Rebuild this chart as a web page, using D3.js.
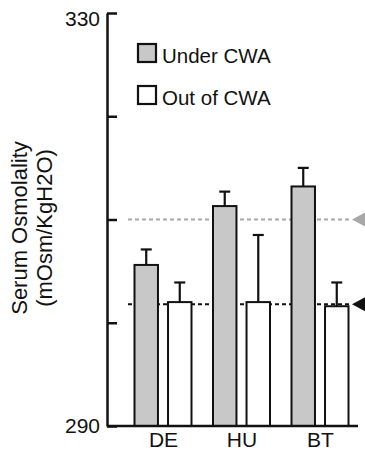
<!DOCTYPE html>
<html>
<head>
<meta charset="utf-8">
<script src="https://cdn.jsdelivr.net/npm/d3@7"></script>
<style>
body { margin:0; background:#fff; }
text { font-family: "Liberation Sans", Arial, sans-serif; fill:#111; }
</style>
</head>
<body>
<div id="chart"></div>
<script>
var categories = ["DE", "HU", "BT"];
var series = ["Under CWA", "Out of CWA"];
var underVals = [305.6, 311.3, 313.2];
var underErr = [1.5, 1.4, 1.8];
var outVals = [302.0, 302.0, 301.6];
var outErr = [1.9, 6.5, 2.3];
var refLines = [310.0, 301.8];   // under, out
var yTicks = [290, 300, 310, 320, 330];

var colors = { "Under CWA": "#c8c8c8", "Out of CWA": "#ffffff" };
var refColors = ["#a8a8a8", "#111"];

var svg = d3.select("#chart").append("svg")
  .attr("width", 365).attr("height", 453);

var y = d3.scaleLinear().domain([290, 330]).range([426, 13]);
var x = d3.scalePoint().domain(categories).range([163, 320]);
var xs = d3.scaleBand().domain(series).range([-28.5, 28.5]).paddingInner(0.3);

// reference dashed lines + arrows
refLines.forEach(function(v, i) {
  svg.append("line")
    .attr("x1", 128).attr("x2", 352)
    .attr("y1", y(v)).attr("y2", y(v))
    .attr("stroke", refColors[i])
    .attr("stroke-width", 2)
    .attr("stroke-dasharray", "4,3");
  svg.append("path")
    .attr("d", "M352," + y(v) + "L365," + (y(v) - 7) + "L365," + (y(v) + 7) + "Z")
    .attr("fill", refColors[i]);
});

// bars
var rows = [];
categories.forEach(function(c, i) {
  rows.push({ cat: c, s: series[0], v: underVals[i], e: underErr[i] });
  rows.push({ cat: c, s: series[1], v: outVals[i], e: outErr[i] });
});

var g = svg.selectAll(".bar").data(rows).enter().append("g").attr("class", "bar");

// error bars
g.append("line")
  .attr("x1", function(d) { return x(d.cat) + xs(d.s) + xs.bandwidth() / 2; })
  .attr("x2", function(d) { return x(d.cat) + xs(d.s) + xs.bandwidth() / 2; })
  .attr("y1", function(d) { return y(d.v); })
  .attr("y2", function(d) { return y(d.v + d.e); })
  .attr("stroke", "#111").attr("stroke-width", 2.2);
g.append("line")
  .attr("x1", function(d) { return x(d.cat) + xs(d.s) + xs.bandwidth() / 2 - 5.5; })
  .attr("x2", function(d) { return x(d.cat) + xs(d.s) + xs.bandwidth() / 2 + 5.5; })
  .attr("y1", function(d) { return y(d.v + d.e); })
  .attr("y2", function(d) { return y(d.v + d.e); })
  .attr("stroke", "#111").attr("stroke-width", 2.2);

g.append("rect")
  .attr("x", function(d) { return x(d.cat) + xs(d.s); })
  .attr("y", function(d) { return y(d.v); })
  .attr("width", xs.bandwidth())
  .attr("height", function(d) { return y(290) - y(d.v); })
  .attr("fill", function(d) { return colors[d.s]; })
  .attr("stroke", "#111").attr("stroke-width", 2);

// y axis
var yAxis = d3.axisLeft(y).tickValues(yTicks)
  .tickSizeInner(-10).tickSizeOuter(0).tickPadding(7)
  .tickFormat(function(d) { return (d === 290 || d === 330) ? d : ""; });
var ya = svg.append("g").attr("transform", "translate(107,0)").call(yAxis);
ya.select(".domain").attr("stroke", "#111").attr("stroke-width", 2.5);
ya.selectAll(".tick line").attr("stroke", "#111").attr("stroke-width", 2.5);
ya.selectAll(".tick text").attr("font-size", 21)
  .attr("font-family", "Liberation Sans, Arial, sans-serif").attr("fill", "#111");
ya.selectAll(".tick").filter(function(d) { return d === 330; })
  .select("text").attr("dy", "0.6em");

// x axis
var xAxis = d3.axisBottom(x).tickSize(0).tickPadding(6);
var xa = svg.append("g").attr("transform", "translate(0,426)").call(xAxis);
xa.select(".domain").attr("d", "M107,0H358").attr("stroke", "#111").attr("stroke-width", 2.5);
xa.selectAll(".tick text").attr("font-size", 21)
  .attr("font-family", "Liberation Sans, Arial, sans-serif").attr("fill", "#111");

// y axis title
var yt = svg.append("text")
  .attr("transform", "translate(27,228) rotate(-90)")
  .attr("text-anchor", "middle")
  .attr("font-size", 22);
yt.append("tspan").attr("x", 0).attr("dy", 0).text("Serum Osmolality");
yt.append("tspan").attr("x", 0).attr("dy", 25).text("(mOsm/KgH2O)");

// legend
var leg = svg.selectAll(".leg").data(series).enter().append("g")
  .attr("class", "leg")
  .attr("transform", function(d, i) { return "translate(138," + (44 + i * 42) + ")"; });
leg.append("rect").attr("width", 18).attr("height", 18)
  .attr("fill", function(d) { return colors[d]; })
  .attr("stroke", "#111").attr("stroke-width", 2.2);
leg.append("text").attr("x", 24).attr("y", 19).attr("font-size", 20.5)
  .text(function(d) { return d; });
</script>
</body>
</html>
